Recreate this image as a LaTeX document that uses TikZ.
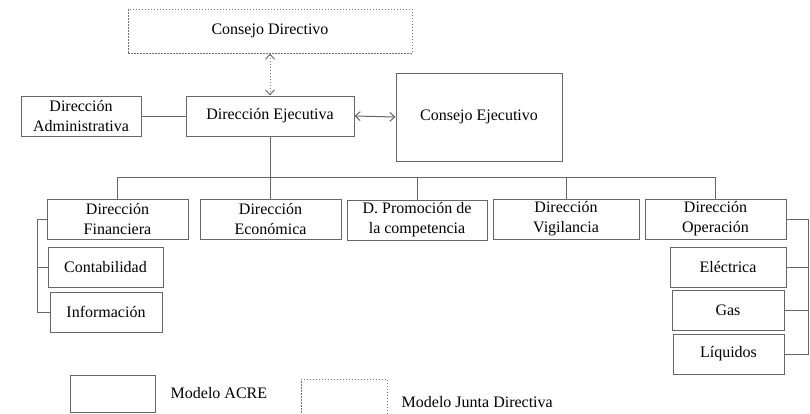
\documentclass[tikz,border=0pt]{standalone}
\usepackage{fontspec}
\setmainfont{Liberation Serif}
\usepackage{tikz}
\usetikzlibrary{arrows.meta, positioning}

\begin{document}
\begin{tikzpicture}[x=1pt, y=-1pt,
  every node/.style={font=\fontsize{16}{20}\selectfont, align=center, inner sep=0pt},
  unit/.style={draw=black!60, line width=1pt, minimum height=40pt},
  junta/.style={draw=black!55, line width=1pt, dash pattern=on 1.5pt off 1.5pt},
  link/.style={draw=black!60, line width=1pt},
  tip/.style={{Straight Barb[length=5pt,width=9pt]}-{Straight Barb[length=5pt,width=9pt]}}]
\useasboundingbox (0,0) rectangle (810,413);

% Top level
\node[junta, minimum width=284pt, minimum height=44pt] (cdir) at (270,31) {Consejo Directivo};
\node[unit, minimum width=168pt] (dej) at (270,116) {Dirección Ejecutiva};
\node[unit, minimum width=120pt] (dadm) at (81,116) {Dirección\\Administrativa};
\node[unit, minimum width=166pt, minimum height=88pt] (cej) at (479,117) {Consejo Ejecutivo};

\draw[link, junta, tip] (cdir.south) -- (dej.north);
\draw[link] (dadm.east) -- (dej.west);
\draw[link, tip] (dej.east) -- (cej.west);

% Direcciones
\node[unit, minimum width=141pt] (dfin) at (117.5,219) {Dirección\\Financiera};
\node[unit, minimum width=141pt] (deco) at (270.5,219) {Dirección\\Económica};
\node[unit, minimum width=140pt] (dpro) at (417,220) {D. Promoción de\\la competencia};
\node[unit, minimum width=146pt] (dvig) at (566,219) {Dirección\\Vigilancia};
\node[unit, minimum width=141pt] (dope) at (715.5,219) {Dirección\\Operación};

\coordinate (bus) at (270,177);
\draw[link] (dej.south) -- (bus);
\foreach \d in {dfin, deco, dpro, dvig, dope}
  \draw[link] (bus) -| (\d.north);

% Financiera
\node[unit, minimum width=115pt] (cont) at (105.5,267) {Contabilidad};
\node[unit, minimum width=112pt] (info) at (106,312) {Información};
\draw[link] (dfin.west) -- ++(-9,0) |- (info.west);
\draw[link] (cont.west) -- ++(-10,0);

% Operacion
\node[unit, minimum width=116pt] (elec) at (728,267) {Eléctrica};
\node[unit, minimum width=112pt] (gas) at (728,310) {Gas};
\node[unit, minimum width=111pt] (liq) at (728.5,354) {Líquidos};
\draw[link] (dope.east) -- ++(22,0) |- (liq.east);
\draw[link] (elec.east) -- ++(22,0);
\draw[link] (gas.east) -- ++(24,0);

% Leyenda
\node[unit, minimum width=85pt, minimum height=37pt] (acre) at (112.5,393.5) {};
\node[right=15pt of acre] (tacre) {Modelo ACRE};
\node[junta, minimum width=86pt, minimum height=36pt] (jd) at (344,397) {};
\node[right=14pt of jd, yshift=-5pt] (tjd) {Modelo Junta Directiva};
\end{tikzpicture}
\end{document}
